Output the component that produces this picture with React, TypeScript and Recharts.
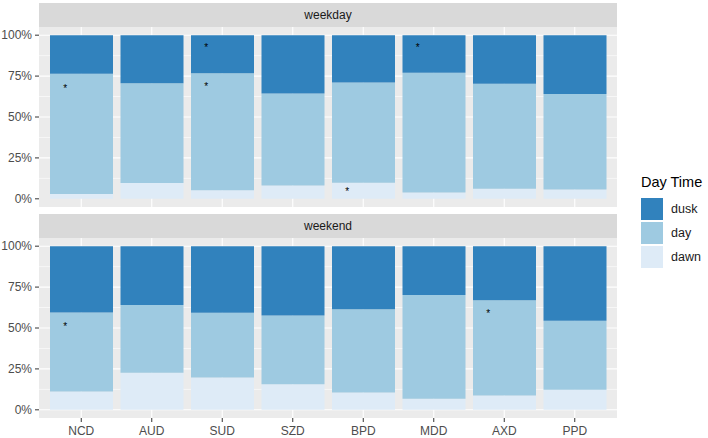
import React from 'react';
import { ComposedChart, Bar, XAxis, YAxis, CartesianGrid, Scatter } from 'recharts';

const categories = ['NCD', 'AUD', 'SUD', 'SZD', 'BPD', 'MDD', 'AXD', 'PPD'];

const weekdayDawn = [3.0, 9.6, 5.3, 8.1, 9.8, 3.8, 6.1, 5.7];
const weekdayDay = [73.4, 61.1, 71.5, 56.3, 61.3, 73.2, 64.2, 58.3];
const weekdayDusk = [23.6, 29.3, 23.2, 35.6, 28.9, 23.0, 29.7, 36.0];
const weekdayStarA = [68, null, 93, null, 5, 93, null, null];
const weekdayStarB = [null, null, 69.3, null, null, null, null, null];

const weekendDawn = [11.2, 22.6, 19.7, 15.6, 10.6, 6.7, 8.7, 12.2];
const weekendDay = [48.3, 41.4, 39.6, 42.1, 50.8, 63.4, 58.2, 42.2];
const weekendDusk = [40.5, 36.0, 40.7, 42.3, 38.6, 29.9, 33.1, 45.6];
const weekendStarA = [51.6, null, null, null, null, null, 59.3, null];
const weekendStarB = [null, null, null, null, null, null, null, null];

const yTicks = [0, 25, 50, 75, 100];
const yMinor = [12.5, 37.5, 62.5, 87.5];
const panels = ['weekday', 'weekend'];
const legendLabels = ['dusk', 'day', 'dawn'];

const COLORS: Record<string, string> = { dusk: '#3182BD', day: '#9ECAE1', dawn: '#DEEBF7' };
const FONT = '"Liberation Sans", Arial, Helvetica, sans-serif';

function build(dawn: number[], day: number[], dusk: number[], a: (number | null)[], b: (number | null)[]) {
  return categories.map((c, i) => ({ cat: c, dawn: dawn[i], day: day[i], dusk: dusk[i], starA: a[i], starB: b[i] }));
}

const weekdayData = build(weekdayDawn, weekdayDay, weekdayDusk, weekdayStarA, weekdayStarB);
const weekendData = build(weekendDawn, weekendDay, weekendDusk, weekendStarA, weekendStarB);

const makeStar = (key: string) => (props: any) => {
  const { cx, cy, payload } = props;
  if (!payload || payload[key] == null || cx == null || cy == null || !Number.isFinite(cy)) return <g />;
  return (
    <text x={cx - 16} y={cy + 4.5} textAnchor="middle" fontSize={10} fontFamily={FONT} fill="#000">
      *
    </text>
  );
};

const PLOT_W = 578;
const YAXIS_W = 39;
const PLOT_H = 180;

function Panel({ data, showX }: { data: any[]; showX: boolean }) {
  return (
    <ComposedChart
      width={YAXIS_W + PLOT_W}
      height={PLOT_H + (showX ? 22 : 0)}
      data={data}
      margin={{ top: 0, right: 0, bottom: 0, left: 0 }}
      barGap={0}
    >
      <CartesianGrid fill="#EBEBEB" stroke="#FFFFFF" strokeWidth={0.6} horizontalValues={yMinor} vertical={false} />
      <CartesianGrid stroke="#FFFFFF" strokeWidth={1.1} horizontalValues={yTicks} verticalValues={categories} />
      <XAxis
        dataKey="cat"
        type="category"
        hide={!showX}
        padding={{ left: 7, right: 7 }}
        axisLine={false}
        tickSize={4}
        tickMargin={4}
        tickLine={{ stroke: '#333333' }}
        tick={{ fill: '#4D4D4D', fontSize: 12, fontFamily: FONT }}
        height={22}
        interval={0}
      />
      <YAxis
        type="number"
        domain={[-5, 105]}
        allowDataOverflow
        ticks={yTicks}
        width={YAXIS_W}
        axisLine={false}
        tickSize={4}
        tickMargin={3}
        tickLine={{ stroke: '#333333' }}
        tick={{ fill: '#4D4D4D', fontSize: 12, fontFamily: FONT }}
        tickFormatter={(v: number) => `${v}%`}
      />
      <Bar dataKey="dawn" stackId="s" fill={COLORS.dawn} barSize={63} isAnimationActive={false} />
      <Bar dataKey="day" stackId="s" fill={COLORS.day} barSize={63} isAnimationActive={false} />
      <Bar dataKey="dusk" stackId="s" fill={COLORS.dusk} barSize={63} isAnimationActive={false} />
      <Scatter dataKey="starA" shape={makeStar('starA')} isAnimationActive={false} />
      <Scatter dataKey="starB" shape={makeStar('starB')} isAnimationActive={false} />
    </ComposedChart>
  );
}

function Strip({ label, top }: { label: string; top: number }) {
  return (
    <div
      style={{
        position: 'absolute',
        left: YAXIS_W,
        top,
        width: PLOT_W,
        height: 23.5,
        background: '#D9D9D9',
        color: '#1A1A1A',
        fontFamily: FONT,
        fontSize: 12,
        display: 'flex',
        alignItems: 'center',
        justifyContent: 'center',
      }}
    >
      {label}
    </div>
  );
}

export default function App() {
  return (
    <div style={{ position: 'absolute', left: 0, top: 0, width: 708, height: 438, background: '#FFFFFF', overflow: 'hidden' }}>
      <Strip label={panels[0]} top={3.3} />
      <div style={{ position: 'absolute', left: 0, top: 26.8 }}>
        <Panel data={weekdayData} showX={false} />
      </div>
      <Strip label={panels[1]} top={214.3} />
      <div style={{ position: 'absolute', left: 0, top: 237.8 }}>
        <Panel data={weekendData} showX={true} />
      </div>
      <div style={{ position: 'absolute', left: 641, top: 174, fontFamily: FONT, fontSize: 14.5, color: '#000', whiteSpace: 'nowrap' }}>
        Day Time
      </div>
      {legendLabels.map((l, i) => (
        <React.Fragment key={l}>
          <div style={{ position: 'absolute', left: 641, top: 198.3 + i * 24, width: 22, height: 22, background: COLORS[l] }} />
          <div
            style={{
              position: 'absolute',
              left: 671,
              top: 198.3 + i * 24,
              height: 22,
              display: 'flex',
              alignItems: 'center',
              fontFamily: FONT,
              fontSize: 12.5,
              color: '#1A1A1A',
            }}
          >
            {l}
          </div>
        </React.Fragment>
      ))}
    </div>
  );
}
